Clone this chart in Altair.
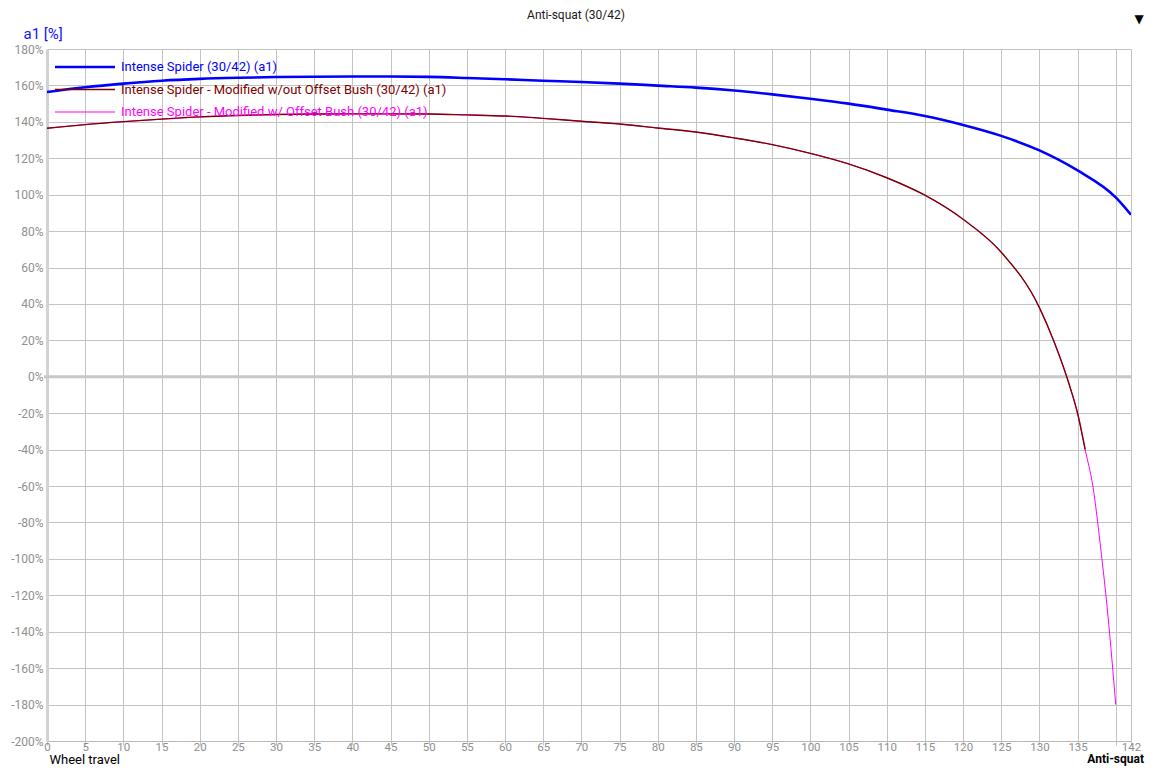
import altair as alt
import pandas as pd

# ---------------- data ----------------
series_names = [
    "Intense Spider (30/42) (a1)",
    "Intense Spider - Modified w/out Offset Bush (30/42) (a1)",
    "Intense Spider - Modified w/ Offset Bush (30/42) (a1)",
]
series_colors = ["#0000ff", "#800000", "#ff00ff"]
series_widths = [2.6, 1.4, 1.0]

travel_original = [0, 5, 10, 15, 20, 25, 30, 35, 40, 45, 50, 55, 60, 65, 70,
                   75, 80, 85, 90, 95, 100, 105, 110, 115, 120, 125, 130, 135, 140, 142]
antisquat_original = [156.4, 159.0, 161.0, 162.6, 163.6, 164.2, 164.6, 164.8, 164.9, 164.9,
                      164.7, 164.1, 163.4, 162.6, 161.9, 161.0, 159.9, 158.8, 157.2, 155.1,
                      152.7, 150.0, 146.7, 143.2, 138.3, 132.3, 124.3, 113.3, 98.5, 89.0]

travel_modified = [0, 5, 10, 15, 20, 25, 30, 35, 40, 45, 50, 55, 60, 65, 70,
                   75, 80, 85, 90, 95, 100, 105, 110, 115, 120, 125, 130, 132, 134, 135,
                   136, 137, 138, 139, 140]
antisquat_without_bush = [136.5, 138.5, 140.1, 141.5, 142.7, 143.5, 144.0, 144.3, 144.4, 144.4,
                          144.3, 143.8, 143.2, 141.9, 140.3, 138.8, 136.6, 134.4, 131.2, 127.5,
                          122.7, 116.9, 109.3, 99.7, 86.5, 68.4, 38.0, 18.4, -5.5, -20.0,
                          -40.0]
antisquat_with_bush = [136.5, 138.5, 140.1, 141.5, 142.7, 143.5, 144.0, 144.3, 144.4, 144.4,
                       144.3, 143.8, 143.2, 141.9, 140.3, 138.8, 136.6, 134.4, 131.2, 127.5,
                       122.7, 116.9, 109.3, 99.7, 86.5, 68.4, 38.0, 18.4, -5.5, -20.0,
                       -40.0, -60.0, -93.0, -132.0, -180.0]

x_ticks = list(range(0, 141, 5)) + [142]
y_ticks = list(range(-200, 181, 20))

chart_title = "Anti-squat (30/42)"
y_title = "a1 [%]"
x_title = "Wheel travel"
corner_label = "Anti-squat"

# ---------------- build ----------------
FONT = "Roboto"
W, H = 1084, 692

df_orig = pd.DataFrame({"travel": travel_original, "value": antisquat_original})
df_wout = pd.DataFrame({"travel": travel_modified[:len(antisquat_without_bush)],
                        "value": antisquat_without_bush})
df_with = pd.DataFrame({"travel": travel_modified, "value": antisquat_with_bush})

x_scale = alt.Scale(domain=[0, 142], nice=False, zero=False)
y_scale = alt.Scale(domain=[-200, 180], nice=False, zero=False)

x_axis = alt.Axis(values=x_ticks, grid=True, gridColor="#c3c3c3", gridWidth=1,
                  tickColor="#c3c3c3", tickSize=4, labelColor="#8f8f8f",
                  labelFont=FONT, labelFontSize=11.5, labelPadding=-4,
                  labelFlush=False, labelOverlap=False,
                  labelExpr="datum.value == 140 ? '' : datum.label",
                  domainColor="#b8b8b8", title=x_title, titleFont=FONT,
                  titleFontSize=13, titleFontWeight="normal", titleColor="#000000",
                  titleAnchor="start", titleAlign="left", titleBaseline="bottom",
                  titleX=2, titleY=25)
y_axis = alt.Axis(values=y_ticks, grid=True, gridColor="#c3c3c3", gridWidth=1,
                  ticks=False, labelColor="#8f8f8f", labelFont=FONT, labelFontSize=12,
                  labelPadding=4, labelExpr="datum.value + '%'",
                  domainColor="#d2d2d2", domainWidth=3,
                  title=y_title, titleFont=FONT, titleFontSize=15,
                  titleFontWeight="normal", titleColor="#1414ff", titleAngle=0,
                  titleAlign="left", titleBaseline="middle", titleX=-24, titleY=-16)

X = alt.X("travel:Q", scale=x_scale, axis=x_axis)
Y = alt.Y("value:Q", scale=y_scale, axis=y_axis)


def line_layer(df, idx):
    return alt.Chart(df).mark_line(
        interpolate="monotone", color=series_colors[idx],
        strokeWidth=series_widths[idx], clip=True
    ).encode(x=X, y=Y)


zero_rule = alt.Chart(pd.DataFrame({"value": [0]})).mark_rule(
    color="#c8c8c8", strokeWidth=3
).encode(y=Y, x=alt.value(-3), x2=alt.value(W))

layers = [zero_rule, line_layer(df_with, 2), line_layer(df_wout, 1), line_layer(df_orig, 0)]

# legend (inside top-left)
for i, name in enumerate(series_names):
    yy = 18 + i * 22.5
    ldf = pd.DataFrame({"name": [name]})
    layers.append(alt.Chart(ldf).mark_rule(color=series_colors[i],
                                          strokeWidth=series_widths[i]).encode(
        x=alt.value(8), x2=alt.value(68), y=alt.value(yy)))
    layers.append(alt.Chart(ldf).mark_text(align="left", baseline="middle",
                                          font=FONT, fontSize=13,
                                          color=series_colors[i]).encode(
        x=alt.value(74), y=alt.value(yy), text="name:N"))

title_layer = alt.Chart(pd.DataFrame({"t": [chart_title]})).mark_text(
    align="center", baseline="middle", font=FONT, fontSize=12, color="#1a1a1a"
).encode(x=alt.value(529), y=alt.value(-34), text="t:N")
corner_layer = alt.Chart(pd.DataFrame({"t": [corner_label]})).mark_text(
    align="right", baseline="bottom", font=FONT, fontSize=12, fontWeight="bold",
    color="#000000"
).encode(x=alt.value(1097), y=alt.value(717), text="t:N")
menu_layer = alt.Chart(pd.DataFrame({"t": ["\u25bc"]})).mark_text(
    align="center", baseline="middle", font="DejaVu Sans", fontSize=12, color="#000000"
).encode(x=alt.value(1092), y=alt.value(-30), text="t:N")
layers += [title_layer, corner_layer, menu_layer]

chart = alt.layer(*layers).properties(
    width=W, height=H,
    autosize=alt.AutoSizeParams(type="none"),
    padding={"left": 39, "top": 41, "right": 14, "bottom": 25},
).configure_view(stroke=None).configure(background="#ffffff")

chart.save("out.html", embed_options={"renderer": "svg", "actions": False})
